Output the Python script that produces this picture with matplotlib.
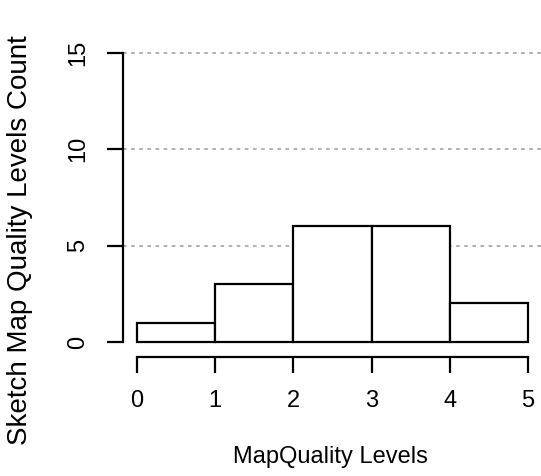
import matplotlib
matplotlib.use("Agg")
import matplotlib.pyplot as plt

# Histogram of sketch map quality levels
bin_edges = [0, 1, 2, 3, 4, 5]
counts = [1, 3, 6, 6, 2]
y_ticks = [0, 5, 10, 15]
x_ticks = [0, 1, 2, 3, 4, 5]
grid_levels = [5, 10, 15]

plt.rcParams["font.family"] = ["Liberation Sans", "DejaVu Sans"]

W, H = 541, 476
fig = plt.figure(figsize=(W / 100, H / 100), dpi=100)

# plot region in pixels
ax_left_px, ax_right_px = 123, 541
ax_top_px, ax_bottom_px = 0, 357
ax = fig.add_axes([ax_left_px / W, (H - ax_bottom_px) / H,
                   (ax_right_px - ax_left_px) / W, (ax_bottom_px - ax_top_px) / H])

# data-to-pixel mapping
x0_px, x_unit = 137, (528 - 137) / 5
y0_px, y_unit = 342, (342 - 53) / 15
ax.set_xlim((ax_left_px - x0_px) / x_unit, (ax_right_px - x0_px) / x_unit)
ax.set_ylim(-(ax_bottom_px - y0_px) / y_unit, (y0_px - ax_top_px) / y_unit)

for g in grid_levels:
    ax.axhline(g, color="#aaaaaa", linestyle=(0, (2, 2.5)), linewidth=1.3, zorder=1)

widths = [bin_edges[i + 1] - bin_edges[i] for i in range(len(counts))]
ax.bar(bin_edges[:-1], counts, width=widths, align="edge",
       facecolor="white", edgecolor="black", linewidth=1.6, zorder=2)

for s in ("top", "right"):
    ax.spines[s].set_visible(False)
ax.spines["left"].set_bounds(0, 15)
ax.spines["bottom"].set_bounds(0, 5)
ax.spines["left"].set_linewidth(1.6)
ax.spines["bottom"].set_linewidth(1.6)

ax.set_xticks(x_ticks)
ax.set_xticklabels([str(t) for t in x_ticks])
ax.set_yticks(y_ticks)
ax.set_yticklabels([str(t) for t in y_ticks], rotation=90, va="center")
ax.tick_params(axis="both", length=11.5, width=1.6, labelsize=17, colors="black")
ax.tick_params(axis="x", pad=12)
ax.tick_params(axis="y", pad=13)

fig.text(330 / W, 1 - 457 / H, "MapQuality Levels", ha="center", va="center", fontsize=17)
fig.text(20 / W, 1 - 240 / H, "Sketch Map Quality Levels Count", ha="center", va="center",
         rotation=90, fontsize=20)

fig.savefig("out.png", dpi=100)
